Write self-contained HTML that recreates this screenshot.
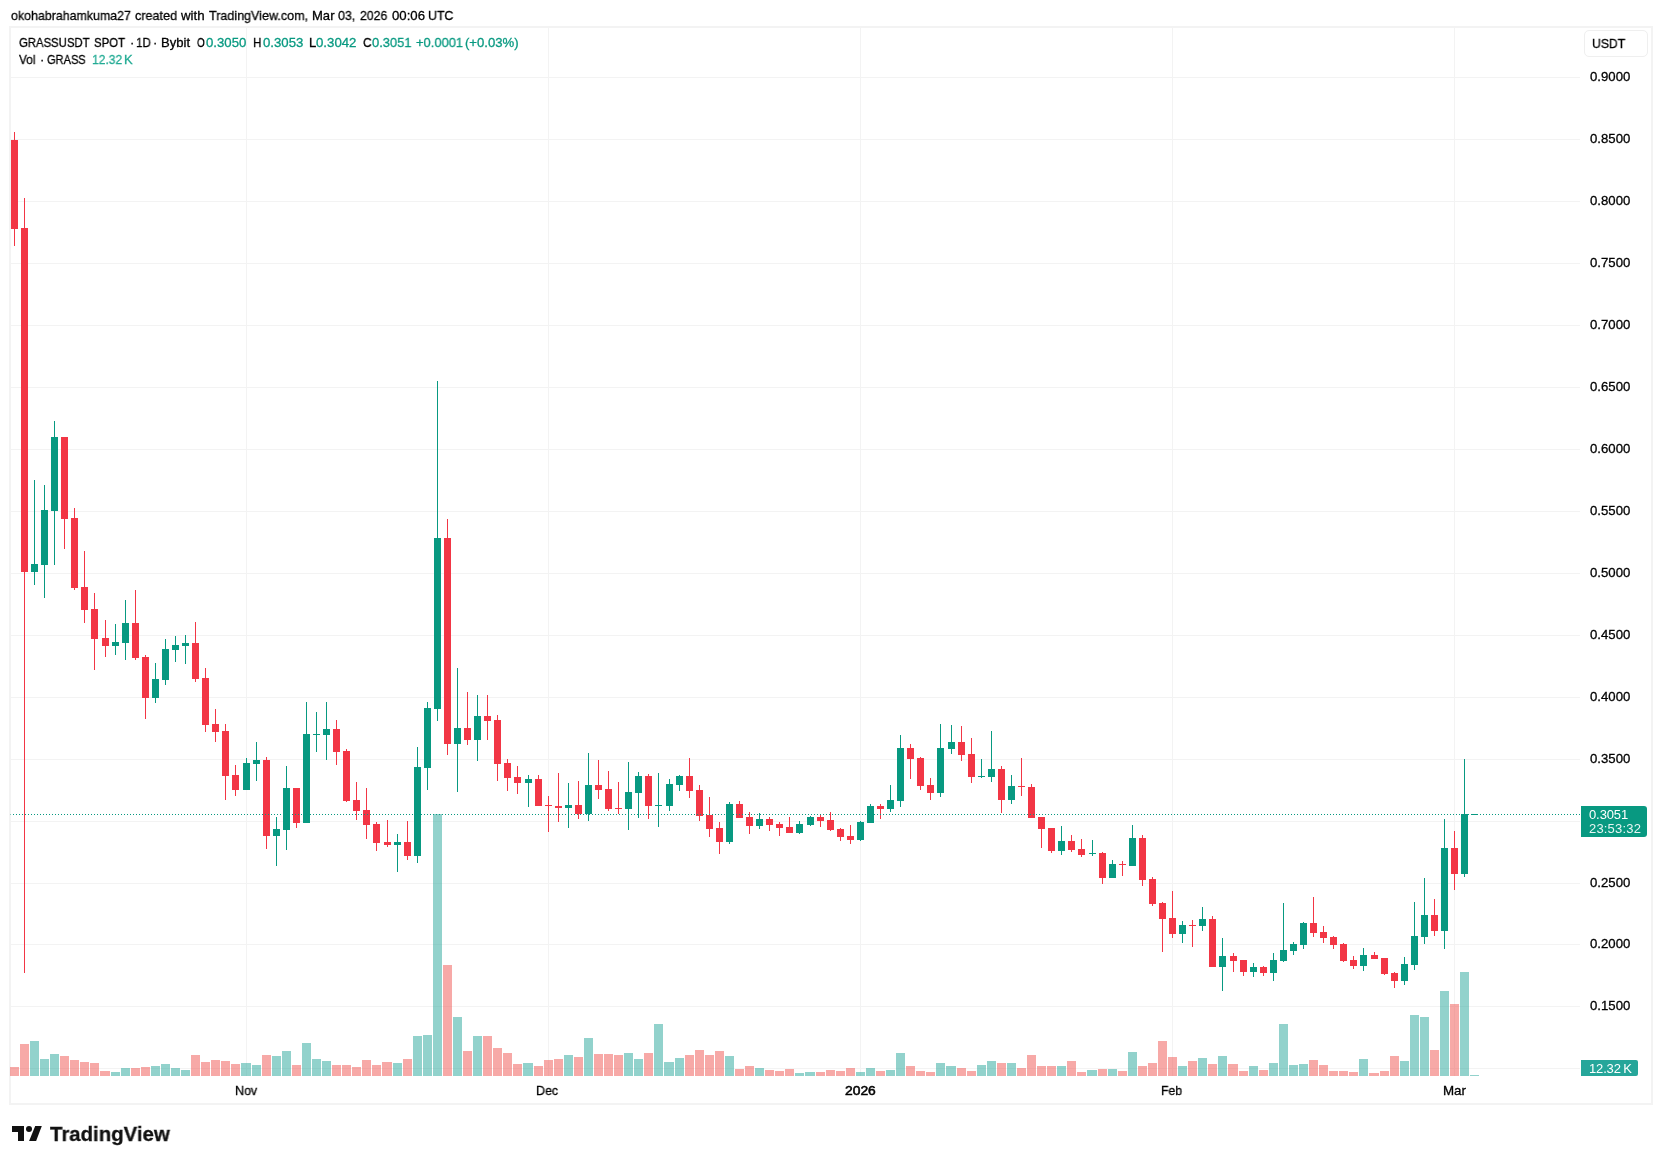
<!DOCTYPE html>
<html><head><meta charset="utf-8"><style>
*{margin:0;padding:0;box-sizing:border-box}
html,body{width:1662px;height:1164px;background:#fff;overflow:hidden}
body{position:relative;font-family:"Liberation Sans",sans-serif;color:#131722}
.ch{position:absolute;left:0;top:0}
.frame{position:absolute;left:9px;top:26px;width:1644px;height:1079px;border:2px solid #f3f3f3}
.t{position:absolute;white-space:nowrap;transform-origin:0 0;font-size:13px;line-height:16px;will-change:transform;-webkit-text-stroke:0.3px currentColor}
.usdt{position:absolute;left:1584px;top:30px;width:64px;height:27px;border:1px solid #efefef;border-radius:5px}
.bx{position:absolute;color:#fff;font-size:13px;line-height:16px;white-space:nowrap;will-change:transform}
</style></head><body>
<div class="frame"></div>
<div class="usdt"></div>
<svg class="ch" width="1662" height="1164" viewBox="0 0 1662 1164" shape-rendering="crispEdges"><rect x="11" y="77" width="1569" height="1" fill="#f3f3f3"/><rect x="11" y="139" width="1569" height="1" fill="#f3f3f3"/><rect x="11" y="201" width="1569" height="1" fill="#f3f3f3"/><rect x="11" y="263" width="1569" height="1" fill="#f3f3f3"/><rect x="11" y="325" width="1569" height="1" fill="#f3f3f3"/><rect x="11" y="387" width="1569" height="1" fill="#f3f3f3"/><rect x="11" y="449" width="1569" height="1" fill="#f3f3f3"/><rect x="11" y="511" width="1569" height="1" fill="#f3f3f3"/><rect x="11" y="573" width="1569" height="1" fill="#f3f3f3"/><rect x="11" y="635" width="1569" height="1" fill="#f3f3f3"/><rect x="11" y="697" width="1569" height="1" fill="#f3f3f3"/><rect x="11" y="759" width="1569" height="1" fill="#f3f3f3"/><rect x="11" y="821" width="1569" height="1" fill="#f3f3f3"/><rect x="11" y="883" width="1569" height="1" fill="#f3f3f3"/><rect x="11" y="944" width="1569" height="1" fill="#f3f3f3"/><rect x="11" y="1006" width="1569" height="1" fill="#f3f3f3"/><rect x="11" y="1068" width="1569" height="1" fill="#f3f3f3"/><rect x="246" y="28" width="1" height="1048" fill="#f3f3f3"/><rect x="548" y="28" width="1" height="1048" fill="#f3f3f3"/><rect x="860" y="28" width="1" height="1048" fill="#f3f3f3"/><rect x="1172" y="28" width="1" height="1048" fill="#f3f3f3"/><rect x="1454" y="28" width="1" height="1048" fill="#f3f3f3"/><rect x="10" y="1067" width="9" height="9" fill="rgba(239,83,80,0.5)"/><rect x="20" y="1044" width="9" height="32" fill="rgba(239,83,80,0.5)"/><rect x="30" y="1041" width="9" height="35" fill="rgba(38,166,154,0.5)"/><rect x="40" y="1059" width="9" height="17" fill="rgba(38,166,154,0.5)"/><rect x="50" y="1054" width="9" height="22" fill="rgba(38,166,154,0.5)"/><rect x="60" y="1056" width="9" height="20" fill="rgba(239,83,80,0.5)"/><rect x="70" y="1060" width="9" height="16" fill="rgba(239,83,80,0.5)"/><rect x="80" y="1062" width="9" height="14" fill="rgba(239,83,80,0.5)"/><rect x="90" y="1063" width="9" height="13" fill="rgba(239,83,80,0.5)"/><rect x="100" y="1071" width="10" height="5" fill="rgba(239,83,80,0.5)"/><rect x="111" y="1072" width="9" height="4" fill="rgba(38,166,154,0.5)"/><rect x="121" y="1068" width="9" height="8" fill="rgba(38,166,154,0.5)"/><rect x="131" y="1068" width="9" height="8" fill="rgba(239,83,80,0.5)"/><rect x="141" y="1067" width="9" height="9" fill="rgba(239,83,80,0.5)"/><rect x="151" y="1066" width="9" height="10" fill="rgba(38,166,154,0.5)"/><rect x="161" y="1064" width="9" height="12" fill="rgba(38,166,154,0.5)"/><rect x="171" y="1068" width="9" height="8" fill="rgba(38,166,154,0.5)"/><rect x="181" y="1070" width="9" height="6" fill="rgba(38,166,154,0.5)"/><rect x="191" y="1055" width="9" height="21" fill="rgba(239,83,80,0.5)"/><rect x="201" y="1062" width="9" height="14" fill="rgba(239,83,80,0.5)"/><rect x="211" y="1060" width="9" height="16" fill="rgba(239,83,80,0.5)"/><rect x="221" y="1061" width="9" height="15" fill="rgba(239,83,80,0.5)"/><rect x="231" y="1064" width="9" height="12" fill="rgba(239,83,80,0.5)"/><rect x="241" y="1063" width="10" height="13" fill="rgba(38,166,154,0.5)"/><rect x="252" y="1065" width="9" height="11" fill="rgba(38,166,154,0.5)"/><rect x="262" y="1055" width="9" height="21" fill="rgba(239,83,80,0.5)"/><rect x="272" y="1056" width="9" height="20" fill="rgba(38,166,154,0.5)"/><rect x="282" y="1051" width="9" height="25" fill="rgba(38,166,154,0.5)"/><rect x="292" y="1065" width="9" height="11" fill="rgba(239,83,80,0.5)"/><rect x="302" y="1043" width="9" height="33" fill="rgba(38,166,154,0.5)"/><rect x="312" y="1059" width="9" height="17" fill="rgba(38,166,154,0.5)"/><rect x="322" y="1061" width="9" height="15" fill="rgba(38,166,154,0.5)"/><rect x="332" y="1065" width="9" height="11" fill="rgba(239,83,80,0.5)"/><rect x="342" y="1065" width="9" height="11" fill="rgba(239,83,80,0.5)"/><rect x="352" y="1067" width="9" height="9" fill="rgba(239,83,80,0.5)"/><rect x="362" y="1060" width="9" height="16" fill="rgba(239,83,80,0.5)"/><rect x="372" y="1065" width="9" height="11" fill="rgba(239,83,80,0.5)"/><rect x="382" y="1062" width="10" height="14" fill="rgba(239,83,80,0.5)"/><rect x="393" y="1063" width="9" height="13" fill="rgba(38,166,154,0.5)"/><rect x="403" y="1059" width="9" height="17" fill="rgba(239,83,80,0.5)"/><rect x="413" y="1036" width="9" height="40" fill="rgba(38,166,154,0.5)"/><rect x="423" y="1035" width="9" height="41" fill="rgba(38,166,154,0.5)"/><rect x="433" y="814" width="9" height="262" fill="rgba(38,166,154,0.5)"/><rect x="443" y="965" width="9" height="111" fill="rgba(239,83,80,0.5)"/><rect x="453" y="1017" width="9" height="59" fill="rgba(38,166,154,0.5)"/><rect x="463" y="1051" width="9" height="25" fill="rgba(239,83,80,0.5)"/><rect x="473" y="1036" width="9" height="40" fill="rgba(38,166,154,0.5)"/><rect x="483" y="1036" width="9" height="40" fill="rgba(239,83,80,0.5)"/><rect x="493" y="1048" width="9" height="28" fill="rgba(239,83,80,0.5)"/><rect x="503" y="1053" width="9" height="23" fill="rgba(239,83,80,0.5)"/><rect x="513" y="1064" width="9" height="12" fill="rgba(239,83,80,0.5)"/><rect x="523" y="1063" width="10" height="13" fill="rgba(38,166,154,0.5)"/><rect x="534" y="1066" width="9" height="10" fill="rgba(239,83,80,0.5)"/><rect x="544" y="1060" width="9" height="16" fill="rgba(239,83,80,0.5)"/><rect x="554" y="1059" width="9" height="17" fill="rgba(239,83,80,0.5)"/><rect x="564" y="1055" width="9" height="21" fill="rgba(38,166,154,0.5)"/><rect x="574" y="1057" width="9" height="19" fill="rgba(239,83,80,0.5)"/><rect x="584" y="1038" width="9" height="38" fill="rgba(38,166,154,0.5)"/><rect x="594" y="1054" width="9" height="22" fill="rgba(239,83,80,0.5)"/><rect x="604" y="1054" width="9" height="22" fill="rgba(239,83,80,0.5)"/><rect x="614" y="1055" width="9" height="21" fill="rgba(239,83,80,0.5)"/><rect x="624" y="1053" width="9" height="23" fill="rgba(38,166,154,0.5)"/><rect x="634" y="1059" width="9" height="17" fill="rgba(38,166,154,0.5)"/><rect x="644" y="1053" width="9" height="23" fill="rgba(239,83,80,0.5)"/><rect x="654" y="1024" width="9" height="52" fill="rgba(38,166,154,0.5)"/><rect x="664" y="1062" width="10" height="14" fill="rgba(38,166,154,0.5)"/><rect x="675" y="1058" width="9" height="18" fill="rgba(38,166,154,0.5)"/><rect x="685" y="1055" width="9" height="21" fill="rgba(239,83,80,0.5)"/><rect x="695" y="1050" width="9" height="26" fill="rgba(239,83,80,0.5)"/><rect x="705" y="1055" width="9" height="21" fill="rgba(239,83,80,0.5)"/><rect x="715" y="1051" width="9" height="25" fill="rgba(239,83,80,0.5)"/><rect x="725" y="1056" width="9" height="20" fill="rgba(38,166,154,0.5)"/><rect x="735" y="1069" width="9" height="7" fill="rgba(239,83,80,0.5)"/><rect x="745" y="1066" width="9" height="10" fill="rgba(239,83,80,0.5)"/><rect x="755" y="1068" width="9" height="8" fill="rgba(38,166,154,0.5)"/><rect x="765" y="1070" width="9" height="6" fill="rgba(239,83,80,0.5)"/><rect x="775" y="1071" width="9" height="5" fill="rgba(239,83,80,0.5)"/><rect x="785" y="1069" width="9" height="7" fill="rgba(239,83,80,0.5)"/><rect x="795" y="1073" width="9" height="3" fill="rgba(38,166,154,0.5)"/><rect x="805" y="1072" width="10" height="4" fill="rgba(38,166,154,0.5)"/><rect x="816" y="1072" width="9" height="4" fill="rgba(239,83,80,0.5)"/><rect x="826" y="1070" width="9" height="6" fill="rgba(239,83,80,0.5)"/><rect x="836" y="1071" width="9" height="5" fill="rgba(239,83,80,0.5)"/><rect x="846" y="1068" width="9" height="8" fill="rgba(239,83,80,0.5)"/><rect x="856" y="1072" width="9" height="4" fill="rgba(38,166,154,0.5)"/><rect x="866" y="1068" width="9" height="8" fill="rgba(38,166,154,0.5)"/><rect x="876" y="1071" width="9" height="5" fill="rgba(239,83,80,0.5)"/><rect x="886" y="1070" width="9" height="6" fill="rgba(38,166,154,0.5)"/><rect x="896" y="1053" width="9" height="23" fill="rgba(38,166,154,0.5)"/><rect x="906" y="1066" width="9" height="10" fill="rgba(239,83,80,0.5)"/><rect x="916" y="1071" width="9" height="5" fill="rgba(239,83,80,0.5)"/><rect x="926" y="1072" width="9" height="4" fill="rgba(239,83,80,0.5)"/><rect x="936" y="1063" width="9" height="13" fill="rgba(38,166,154,0.5)"/><rect x="946" y="1066" width="10" height="10" fill="rgba(38,166,154,0.5)"/><rect x="957" y="1068" width="9" height="8" fill="rgba(239,83,80,0.5)"/><rect x="967" y="1071" width="9" height="5" fill="rgba(239,83,80,0.5)"/><rect x="977" y="1065" width="9" height="11" fill="rgba(38,166,154,0.5)"/><rect x="987" y="1061" width="9" height="15" fill="rgba(38,166,154,0.5)"/><rect x="997" y="1063" width="9" height="13" fill="rgba(239,83,80,0.5)"/><rect x="1007" y="1063" width="9" height="13" fill="rgba(38,166,154,0.5)"/><rect x="1017" y="1068" width="9" height="8" fill="rgba(239,83,80,0.5)"/><rect x="1027" y="1055" width="9" height="21" fill="rgba(239,83,80,0.5)"/><rect x="1037" y="1066" width="9" height="10" fill="rgba(239,83,80,0.5)"/><rect x="1047" y="1066" width="9" height="10" fill="rgba(239,83,80,0.5)"/><rect x="1057" y="1066" width="9" height="10" fill="rgba(38,166,154,0.5)"/><rect x="1067" y="1061" width="9" height="15" fill="rgba(239,83,80,0.5)"/><rect x="1077" y="1072" width="9" height="4" fill="rgba(239,83,80,0.5)"/><rect x="1087" y="1070" width="10" height="6" fill="rgba(38,166,154,0.5)"/><rect x="1098" y="1069" width="9" height="7" fill="rgba(239,83,80,0.5)"/><rect x="1108" y="1069" width="9" height="7" fill="rgba(38,166,154,0.5)"/><rect x="1118" y="1071" width="9" height="5" fill="rgba(239,83,80,0.5)"/><rect x="1128" y="1052" width="9" height="24" fill="rgba(38,166,154,0.5)"/><rect x="1138" y="1066" width="9" height="10" fill="rgba(239,83,80,0.5)"/><rect x="1148" y="1063" width="9" height="13" fill="rgba(239,83,80,0.5)"/><rect x="1158" y="1041" width="9" height="35" fill="rgba(239,83,80,0.5)"/><rect x="1168" y="1057" width="9" height="19" fill="rgba(239,83,80,0.5)"/><rect x="1178" y="1066" width="9" height="10" fill="rgba(38,166,154,0.5)"/><rect x="1188" y="1061" width="9" height="15" fill="rgba(239,83,80,0.5)"/><rect x="1198" y="1058" width="9" height="18" fill="rgba(38,166,154,0.5)"/><rect x="1208" y="1064" width="9" height="12" fill="rgba(239,83,80,0.5)"/><rect x="1218" y="1056" width="9" height="20" fill="rgba(38,166,154,0.5)"/><rect x="1228" y="1064" width="10" height="12" fill="rgba(239,83,80,0.5)"/><rect x="1239" y="1071" width="9" height="5" fill="rgba(239,83,80,0.5)"/><rect x="1249" y="1066" width="9" height="10" fill="rgba(38,166,154,0.5)"/><rect x="1259" y="1070" width="9" height="6" fill="rgba(239,83,80,0.5)"/><rect x="1269" y="1063" width="9" height="13" fill="rgba(38,166,154,0.5)"/><rect x="1279" y="1024" width="9" height="52" fill="rgba(38,166,154,0.5)"/><rect x="1289" y="1065" width="9" height="11" fill="rgba(38,166,154,0.5)"/><rect x="1299" y="1064" width="9" height="12" fill="rgba(38,166,154,0.5)"/><rect x="1309" y="1060" width="9" height="16" fill="rgba(239,83,80,0.5)"/><rect x="1319" y="1065" width="9" height="11" fill="rgba(239,83,80,0.5)"/><rect x="1329" y="1071" width="9" height="5" fill="rgba(239,83,80,0.5)"/><rect x="1339" y="1071" width="9" height="5" fill="rgba(239,83,80,0.5)"/><rect x="1349" y="1072" width="9" height="4" fill="rgba(239,83,80,0.5)"/><rect x="1359" y="1059" width="9" height="17" fill="rgba(38,166,154,0.5)"/><rect x="1369" y="1073" width="10" height="3" fill="rgba(239,83,80,0.5)"/><rect x="1380" y="1071" width="9" height="5" fill="rgba(239,83,80,0.5)"/><rect x="1390" y="1056" width="9" height="20" fill="rgba(239,83,80,0.5)"/><rect x="1400" y="1061" width="9" height="15" fill="rgba(38,166,154,0.5)"/><rect x="1410" y="1015" width="9" height="61" fill="rgba(38,166,154,0.5)"/><rect x="1420" y="1017" width="9" height="59" fill="rgba(38,166,154,0.5)"/><rect x="1430" y="1050" width="9" height="26" fill="rgba(239,83,80,0.5)"/><rect x="1440" y="991" width="9" height="85" fill="rgba(38,166,154,0.5)"/><rect x="1450" y="1004" width="9" height="72" fill="rgba(239,83,80,0.5)"/><rect x="1460" y="972" width="9" height="104" fill="rgba(38,166,154,0.5)"/><rect x="1470" y="1075" width="9" height="1" fill="rgba(38,166,154,0.5)"/><rect x="14" y="132" width="1" height="114" fill="#F23645"/><rect x="11" y="140" width="7" height="89" fill="#F23645"/><rect x="24" y="198" width="1" height="775" fill="#F23645"/><rect x="21" y="228" width="7" height="344" fill="#F23645"/><rect x="34" y="480" width="1" height="105" fill="#089981"/><rect x="31" y="564" width="7" height="8" fill="#089981"/><rect x="44" y="485" width="1" height="113" fill="#089981"/><rect x="41" y="510" width="7" height="55" fill="#089981"/><rect x="54" y="421" width="1" height="144" fill="#089981"/><rect x="51" y="437" width="7" height="74" fill="#089981"/><rect x="64" y="437" width="1" height="112" fill="#F23645"/><rect x="61" y="437" width="7" height="82" fill="#F23645"/><rect x="74" y="508" width="1" height="82" fill="#F23645"/><rect x="71" y="518" width="7" height="70" fill="#F23645"/><rect x="84" y="551" width="1" height="72" fill="#F23645"/><rect x="81" y="587" width="7" height="23" fill="#F23645"/><rect x="94" y="593" width="1" height="77" fill="#F23645"/><rect x="91" y="609" width="7" height="30" fill="#F23645"/><rect x="105" y="620" width="1" height="37" fill="#F23645"/><rect x="102" y="638" width="7" height="8" fill="#F23645"/><rect x="115" y="624" width="1" height="31" fill="#089981"/><rect x="112" y="642" width="7" height="4" fill="#089981"/><rect x="125" y="600" width="1" height="60" fill="#089981"/><rect x="122" y="623" width="7" height="20" fill="#089981"/><rect x="135" y="590" width="1" height="70" fill="#F23645"/><rect x="132" y="623" width="7" height="35" fill="#F23645"/><rect x="145" y="655" width="1" height="64" fill="#F23645"/><rect x="142" y="657" width="7" height="41" fill="#F23645"/><rect x="155" y="663" width="1" height="40" fill="#089981"/><rect x="152" y="679" width="7" height="19" fill="#089981"/><rect x="165" y="639" width="1" height="46" fill="#089981"/><rect x="162" y="649" width="7" height="31" fill="#089981"/><rect x="175" y="636" width="1" height="26" fill="#089981"/><rect x="172" y="645" width="7" height="5" fill="#089981"/><rect x="185" y="635" width="1" height="29" fill="#089981"/><rect x="182" y="643" width="7" height="3" fill="#089981"/><rect x="195" y="622" width="1" height="60" fill="#F23645"/><rect x="192" y="643" width="7" height="36" fill="#F23645"/><rect x="205" y="668" width="1" height="64" fill="#F23645"/><rect x="202" y="678" width="7" height="47" fill="#F23645"/><rect x="215" y="709" width="1" height="33" fill="#F23645"/><rect x="212" y="724" width="7" height="8" fill="#F23645"/><rect x="225" y="724" width="1" height="76" fill="#F23645"/><rect x="222" y="731" width="7" height="45" fill="#F23645"/><rect x="235" y="765" width="1" height="31" fill="#F23645"/><rect x="232" y="775" width="7" height="15" fill="#F23645"/><rect x="246" y="758" width="1" height="32" fill="#089981"/><rect x="243" y="763" width="7" height="27" fill="#089981"/><rect x="256" y="742" width="1" height="39" fill="#089981"/><rect x="253" y="760" width="7" height="4" fill="#089981"/><rect x="266" y="757" width="1" height="92" fill="#F23645"/><rect x="263" y="760" width="7" height="76" fill="#F23645"/><rect x="276" y="817" width="1" height="49" fill="#089981"/><rect x="273" y="829" width="7" height="7" fill="#089981"/><rect x="286" y="766" width="1" height="84" fill="#089981"/><rect x="283" y="788" width="7" height="42" fill="#089981"/><rect x="296" y="788" width="1" height="40" fill="#F23645"/><rect x="293" y="788" width="7" height="35" fill="#F23645"/><rect x="306" y="702" width="1" height="121" fill="#089981"/><rect x="303" y="734" width="7" height="89" fill="#089981"/><rect x="316" y="712" width="1" height="40" fill="#089981"/><rect x="313" y="734" width="7" height="1" fill="#089981"/><rect x="326" y="702" width="1" height="58" fill="#089981"/><rect x="323" y="729" width="7" height="6" fill="#089981"/><rect x="336" y="720" width="1" height="45" fill="#F23645"/><rect x="333" y="729" width="7" height="23" fill="#F23645"/><rect x="346" y="749" width="1" height="53" fill="#F23645"/><rect x="343" y="751" width="7" height="50" fill="#F23645"/><rect x="356" y="782" width="1" height="38" fill="#F23645"/><rect x="353" y="800" width="7" height="11" fill="#F23645"/><rect x="366" y="788" width="1" height="51" fill="#F23645"/><rect x="363" y="810" width="7" height="15" fill="#F23645"/><rect x="376" y="822" width="1" height="29" fill="#F23645"/><rect x="373" y="824" width="7" height="19" fill="#F23645"/><rect x="387" y="820" width="1" height="27" fill="#F23645"/><rect x="384" y="842" width="7" height="3" fill="#F23645"/><rect x="397" y="834" width="1" height="38" fill="#089981"/><rect x="394" y="842" width="7" height="3" fill="#089981"/><rect x="407" y="821" width="1" height="39" fill="#F23645"/><rect x="404" y="842" width="7" height="14" fill="#F23645"/><rect x="417" y="747" width="1" height="116" fill="#089981"/><rect x="414" y="767" width="7" height="89" fill="#089981"/><rect x="427" y="702" width="1" height="88" fill="#089981"/><rect x="424" y="708" width="7" height="60" fill="#089981"/><rect x="437" y="381" width="1" height="340" fill="#089981"/><rect x="434" y="538" width="7" height="171" fill="#089981"/><rect x="447" y="519" width="1" height="236" fill="#F23645"/><rect x="444" y="538" width="7" height="206" fill="#F23645"/><rect x="457" y="668" width="1" height="124" fill="#089981"/><rect x="454" y="728" width="7" height="16" fill="#089981"/><rect x="467" y="692" width="1" height="53" fill="#F23645"/><rect x="464" y="728" width="7" height="12" fill="#F23645"/><rect x="477" y="695" width="1" height="66" fill="#089981"/><rect x="474" y="716" width="7" height="24" fill="#089981"/><rect x="487" y="695" width="1" height="45" fill="#F23645"/><rect x="484" y="716" width="7" height="5" fill="#F23645"/><rect x="497" y="715" width="1" height="66" fill="#F23645"/><rect x="494" y="720" width="7" height="44" fill="#F23645"/><rect x="507" y="759" width="1" height="32" fill="#F23645"/><rect x="504" y="763" width="7" height="15" fill="#F23645"/><rect x="517" y="766" width="1" height="28" fill="#F23645"/><rect x="514" y="777" width="7" height="6" fill="#F23645"/><rect x="528" y="775" width="1" height="32" fill="#089981"/><rect x="525" y="779" width="7" height="4" fill="#089981"/><rect x="538" y="775" width="1" height="31" fill="#F23645"/><rect x="535" y="779" width="7" height="27" fill="#F23645"/><rect x="548" y="796" width="1" height="36" fill="#F23645"/><rect x="545" y="805" width="7" height="1" fill="#F23645"/><rect x="558" y="773" width="1" height="49" fill="#F23645"/><rect x="555" y="806" width="7" height="2" fill="#F23645"/><rect x="568" y="783" width="1" height="45" fill="#089981"/><rect x="565" y="805" width="7" height="3" fill="#089981"/><rect x="578" y="781" width="1" height="38" fill="#F23645"/><rect x="575" y="805" width="7" height="9" fill="#F23645"/><rect x="588" y="753" width="1" height="68" fill="#089981"/><rect x="585" y="785" width="7" height="29" fill="#089981"/><rect x="598" y="760" width="1" height="39" fill="#F23645"/><rect x="595" y="785" width="7" height="5" fill="#F23645"/><rect x="608" y="771" width="1" height="40" fill="#F23645"/><rect x="605" y="789" width="7" height="20" fill="#F23645"/><rect x="618" y="782" width="1" height="32" fill="#F23645"/><rect x="615" y="808" width="7" height="1" fill="#F23645"/><rect x="628" y="762" width="1" height="68" fill="#089981"/><rect x="625" y="792" width="7" height="17" fill="#089981"/><rect x="638" y="772" width="1" height="46" fill="#089981"/><rect x="635" y="776" width="7" height="17" fill="#089981"/><rect x="648" y="774" width="1" height="45" fill="#F23645"/><rect x="645" y="776" width="7" height="30" fill="#F23645"/><rect x="658" y="773" width="1" height="54" fill="#089981"/><rect x="655" y="805" width="7" height="1" fill="#089981"/><rect x="669" y="779" width="1" height="32" fill="#089981"/><rect x="666" y="784" width="7" height="22" fill="#089981"/><rect x="679" y="775" width="1" height="16" fill="#089981"/><rect x="676" y="776" width="7" height="9" fill="#089981"/><rect x="689" y="758" width="1" height="40" fill="#F23645"/><rect x="686" y="776" width="7" height="15" fill="#F23645"/><rect x="699" y="785" width="1" height="36" fill="#F23645"/><rect x="696" y="790" width="7" height="26" fill="#F23645"/><rect x="709" y="797" width="1" height="40" fill="#F23645"/><rect x="706" y="815" width="7" height="14" fill="#F23645"/><rect x="719" y="822" width="1" height="32" fill="#F23645"/><rect x="716" y="828" width="7" height="14" fill="#F23645"/><rect x="729" y="802" width="1" height="42" fill="#089981"/><rect x="726" y="804" width="7" height="38" fill="#089981"/><rect x="739" y="801" width="1" height="17" fill="#F23645"/><rect x="736" y="804" width="7" height="14" fill="#F23645"/><rect x="749" y="812" width="1" height="22" fill="#F23645"/><rect x="746" y="817" width="7" height="9" fill="#F23645"/><rect x="759" y="813" width="1" height="16" fill="#089981"/><rect x="756" y="819" width="7" height="7" fill="#089981"/><rect x="769" y="817" width="1" height="14" fill="#F23645"/><rect x="766" y="819" width="7" height="6" fill="#F23645"/><rect x="779" y="822" width="1" height="14" fill="#F23645"/><rect x="776" y="824" width="7" height="4" fill="#F23645"/><rect x="789" y="817" width="1" height="16" fill="#F23645"/><rect x="786" y="827" width="7" height="6" fill="#F23645"/><rect x="799" y="821" width="1" height="13" fill="#089981"/><rect x="796" y="824" width="7" height="9" fill="#089981"/><rect x="810" y="816" width="1" height="10" fill="#089981"/><rect x="807" y="817" width="7" height="8" fill="#089981"/><rect x="820" y="814" width="1" height="13" fill="#F23645"/><rect x="817" y="817" width="7" height="4" fill="#F23645"/><rect x="830" y="812" width="1" height="19" fill="#F23645"/><rect x="827" y="820" width="7" height="10" fill="#F23645"/><rect x="840" y="828" width="1" height="13" fill="#F23645"/><rect x="837" y="829" width="7" height="8" fill="#F23645"/><rect x="850" y="825" width="1" height="19" fill="#F23645"/><rect x="847" y="836" width="7" height="4" fill="#F23645"/><rect x="860" y="821" width="1" height="20" fill="#089981"/><rect x="857" y="822" width="7" height="18" fill="#089981"/><rect x="870" y="804" width="1" height="19" fill="#089981"/><rect x="867" y="806" width="7" height="17" fill="#089981"/><rect x="880" y="804" width="1" height="15" fill="#F23645"/><rect x="877" y="806" width="7" height="3" fill="#F23645"/><rect x="890" y="785" width="1" height="27" fill="#089981"/><rect x="887" y="800" width="7" height="9" fill="#089981"/><rect x="900" y="735" width="1" height="72" fill="#089981"/><rect x="897" y="748" width="7" height="53" fill="#089981"/><rect x="910" y="744" width="1" height="35" fill="#F23645"/><rect x="907" y="748" width="7" height="11" fill="#F23645"/><rect x="920" y="757" width="1" height="33" fill="#F23645"/><rect x="917" y="758" width="7" height="28" fill="#F23645"/><rect x="930" y="778" width="1" height="22" fill="#F23645"/><rect x="927" y="785" width="7" height="8" fill="#F23645"/><rect x="940" y="724" width="1" height="73" fill="#089981"/><rect x="937" y="748" width="7" height="45" fill="#089981"/><rect x="951" y="725" width="1" height="29" fill="#089981"/><rect x="948" y="742" width="7" height="7" fill="#089981"/><rect x="961" y="726" width="1" height="35" fill="#F23645"/><rect x="958" y="742" width="7" height="13" fill="#F23645"/><rect x="971" y="738" width="1" height="45" fill="#F23645"/><rect x="968" y="754" width="7" height="23" fill="#F23645"/><rect x="981" y="759" width="1" height="19" fill="#089981"/><rect x="978" y="776" width="7" height="1" fill="#089981"/><rect x="991" y="731" width="1" height="51" fill="#089981"/><rect x="988" y="769" width="7" height="8" fill="#089981"/><rect x="1001" y="766" width="1" height="47" fill="#F23645"/><rect x="998" y="769" width="7" height="31" fill="#F23645"/><rect x="1011" y="775" width="1" height="29" fill="#089981"/><rect x="1008" y="786" width="7" height="14" fill="#089981"/><rect x="1021" y="758" width="1" height="38" fill="#F23645"/><rect x="1018" y="786" width="7" height="1" fill="#F23645"/><rect x="1031" y="784" width="1" height="34" fill="#F23645"/><rect x="1028" y="787" width="7" height="31" fill="#F23645"/><rect x="1041" y="817" width="1" height="31" fill="#F23645"/><rect x="1038" y="817" width="7" height="12" fill="#F23645"/><rect x="1051" y="828" width="1" height="25" fill="#F23645"/><rect x="1048" y="828" width="7" height="23" fill="#F23645"/><rect x="1061" y="826" width="1" height="29" fill="#089981"/><rect x="1058" y="841" width="7" height="10" fill="#089981"/><rect x="1071" y="835" width="1" height="17" fill="#F23645"/><rect x="1068" y="841" width="7" height="9" fill="#F23645"/><rect x="1081" y="839" width="1" height="18" fill="#F23645"/><rect x="1078" y="849" width="7" height="6" fill="#F23645"/><rect x="1092" y="840" width="1" height="16" fill="#089981"/><rect x="1089" y="853" width="7" height="1" fill="#089981"/><rect x="1102" y="852" width="1" height="32" fill="#F23645"/><rect x="1099" y="853" width="7" height="25" fill="#F23645"/><rect x="1112" y="860" width="1" height="18" fill="#089981"/><rect x="1109" y="864" width="7" height="14" fill="#089981"/><rect x="1122" y="861" width="1" height="15" fill="#F23645"/><rect x="1119" y="864" width="7" height="1" fill="#F23645"/><rect x="1132" y="825" width="1" height="41" fill="#089981"/><rect x="1129" y="838" width="7" height="28" fill="#089981"/><rect x="1142" y="835" width="1" height="51" fill="#F23645"/><rect x="1139" y="838" width="7" height="42" fill="#F23645"/><rect x="1152" y="877" width="1" height="29" fill="#F23645"/><rect x="1149" y="879" width="7" height="25" fill="#F23645"/><rect x="1162" y="902" width="1" height="50" fill="#F23645"/><rect x="1159" y="903" width="7" height="16" fill="#F23645"/><rect x="1172" y="891" width="1" height="47" fill="#F23645"/><rect x="1169" y="918" width="7" height="16" fill="#F23645"/><rect x="1182" y="921" width="1" height="22" fill="#089981"/><rect x="1179" y="925" width="7" height="9" fill="#089981"/><rect x="1192" y="920" width="1" height="27" fill="#F23645"/><rect x="1189" y="925" width="7" height="1" fill="#F23645"/><rect x="1202" y="907" width="1" height="24" fill="#089981"/><rect x="1199" y="919" width="7" height="7" fill="#089981"/><rect x="1212" y="916" width="1" height="51" fill="#F23645"/><rect x="1209" y="919" width="7" height="48" fill="#F23645"/><rect x="1222" y="938" width="1" height="53" fill="#089981"/><rect x="1219" y="956" width="7" height="11" fill="#089981"/><rect x="1233" y="953" width="1" height="19" fill="#F23645"/><rect x="1230" y="956" width="7" height="5" fill="#F23645"/><rect x="1243" y="960" width="1" height="16" fill="#F23645"/><rect x="1240" y="960" width="7" height="12" fill="#F23645"/><rect x="1253" y="963" width="1" height="14" fill="#089981"/><rect x="1250" y="967" width="7" height="5" fill="#089981"/><rect x="1263" y="966" width="1" height="10" fill="#F23645"/><rect x="1260" y="967" width="7" height="6" fill="#F23645"/><rect x="1273" y="953" width="1" height="28" fill="#089981"/><rect x="1270" y="960" width="7" height="13" fill="#089981"/><rect x="1283" y="903" width="1" height="59" fill="#089981"/><rect x="1280" y="950" width="7" height="11" fill="#089981"/><rect x="1293" y="942" width="1" height="13" fill="#089981"/><rect x="1290" y="944" width="7" height="7" fill="#089981"/><rect x="1303" y="922" width="1" height="27" fill="#089981"/><rect x="1300" y="923" width="7" height="22" fill="#089981"/><rect x="1313" y="897" width="1" height="40" fill="#F23645"/><rect x="1310" y="923" width="7" height="10" fill="#F23645"/><rect x="1323" y="926" width="1" height="17" fill="#F23645"/><rect x="1320" y="932" width="7" height="6" fill="#F23645"/><rect x="1333" y="936" width="1" height="13" fill="#F23645"/><rect x="1330" y="937" width="7" height="8" fill="#F23645"/><rect x="1343" y="943" width="1" height="19" fill="#F23645"/><rect x="1340" y="944" width="7" height="17" fill="#F23645"/><rect x="1353" y="956" width="1" height="13" fill="#F23645"/><rect x="1350" y="960" width="7" height="6" fill="#F23645"/><rect x="1363" y="948" width="1" height="23" fill="#089981"/><rect x="1360" y="955" width="7" height="11" fill="#089981"/><rect x="1374" y="952" width="1" height="7" fill="#F23645"/><rect x="1371" y="955" width="7" height="4" fill="#F23645"/><rect x="1384" y="958" width="1" height="17" fill="#F23645"/><rect x="1381" y="958" width="7" height="16" fill="#F23645"/><rect x="1394" y="972" width="1" height="16" fill="#F23645"/><rect x="1391" y="973" width="7" height="8" fill="#F23645"/><rect x="1404" y="957" width="1" height="28" fill="#089981"/><rect x="1401" y="964" width="7" height="17" fill="#089981"/><rect x="1414" y="902" width="1" height="68" fill="#089981"/><rect x="1411" y="936" width="7" height="29" fill="#089981"/><rect x="1424" y="878" width="1" height="66" fill="#089981"/><rect x="1421" y="915" width="7" height="22" fill="#089981"/><rect x="1434" y="899" width="1" height="37" fill="#F23645"/><rect x="1431" y="915" width="7" height="16" fill="#F23645"/><rect x="1444" y="819" width="1" height="130" fill="#089981"/><rect x="1441" y="848" width="7" height="83" fill="#089981"/><rect x="1454" y="831" width="1" height="59" fill="#F23645"/><rect x="1451" y="848" width="7" height="26" fill="#F23645"/><rect x="1464" y="759" width="1" height="118" fill="#089981"/><rect x="1461" y="814" width="7" height="60" fill="#089981"/><rect x="1471" y="814" width="7" height="1" fill="#089981"/><rect x="10" y="814" width="1" height="1" fill="#089981" fill-opacity="0.45"/><line x1="13" y1="814.5" x2="1580" y2="814.5" stroke="#089981" stroke-width="1" stroke-dasharray="1 2"/><g fill="#111111" shape-rendering="geometricPrecision"><path d="M12 1126H24V1141H18V1132H12Z"/><circle cx="29" cy="1129" r="3"/><path d="M35.2 1126H41.8L36.1 1141H29.1Z"/></g></svg>
<div class="t" id="hdr_0" style="left:10.65px;top:8.00px;letter-spacing:0.000px;transform:scaleX(0.9535);color:#000000;">okohabrahamkuma27</div><div class="t" id="hdr_1" style="left:135.30px;top:8.00px;letter-spacing:0.000px;transform:scaleX(0.9691);color:#000000;">created</div><div class="t" id="hdr_2" style="left:181.30px;top:8.00px;letter-spacing:0.000px;transform:scaleX(1.0222);color:#000000;">with</div><div class="t" id="hdr_3" style="left:208.50px;top:8.00px;letter-spacing:0.000px;transform:scaleX(0.9649);color:#000000;">TradingView.com,</div><div class="t" id="hdr_4" style="left:311.60px;top:8.00px;letter-spacing:0.000px;transform:scaleX(1.0039);color:#000000;">Mar</div><div class="t" id="hdr_5" style="left:338.05px;top:8.00px;letter-spacing:0.000px;transform:scaleX(0.9564);color:#000000;">03,</div><div class="t" id="hdr_6" style="left:360.30px;top:8.00px;letter-spacing:0.000px;transform:scaleX(0.9413);color:#000000;">2026</div><div class="t" id="hdr_7" style="left:392.30px;top:8.00px;letter-spacing:0.000px;transform:scaleX(1.0149);color:#000000;">00:06</div><div class="t" id="hdr_8" style="left:428.20px;top:8.00px;letter-spacing:0.000px;transform:scaleX(0.9505);color:#000000;">UTC</div><div class="t" id="l1_0" style="left:18.70px;top:35.00px;letter-spacing:0.000px;transform:scaleX(0.8720);color:#000000;">GRASSUSDT</div><div class="t" id="l1_1" style="left:93.60px;top:35.00px;letter-spacing:0.000px;transform:scaleX(0.8758);color:#000000;">SPOT</div><div class="t" id="l1_2" style="left:129.75px;top:35.00px;letter-spacing:0.000px;transform:scaleX(1.0000);color:#000000;">·</div><div class="t" id="l1_3" style="left:135.80px;top:35.00px;letter-spacing:0.000px;transform:scaleX(0.8942);color:#000000;">1D</div><div class="t" id="l1_4" style="left:153.25px;top:35.00px;letter-spacing:0.000px;transform:scaleX(1.0000);color:#000000;">·</div><div class="t" id="l1_5" style="left:160.80px;top:35.00px;letter-spacing:0.000px;transform:scaleX(1.0036);color:#000000;">Bybit</div><div class="t" id="l1_6" style="left:196.60px;top:35.00px;letter-spacing:0.000px;transform:scaleX(0.7624);color:#000000;">O</div><div class="t" id="l1_7" style="left:205.75px;top:35.00px;letter-spacing:0.000px;transform:scaleX(1.0139);color:#089981;">0.3050</div><div class="t" id="l1_8" style="left:252.90px;top:35.00px;letter-spacing:0.000px;transform:scaleX(0.8892);color:#000000;">H</div><div class="t" id="l1_9" style="left:262.65px;top:35.00px;letter-spacing:0.000px;transform:scaleX(1.0147);color:#089981;">0.3053</div><div class="t" id="l1_10" style="left:308.80px;top:35.00px;letter-spacing:0.000px;transform:scaleX(1.0000);color:#000000;">L</div><div class="t" id="l1_11" style="left:316.10px;top:35.00px;letter-spacing:0.000px;transform:scaleX(1.0172);color:#089981;">0.3042</div><div class="t" id="l1_12" style="left:362.90px;top:35.00px;letter-spacing:0.000px;transform:scaleX(0.9164);color:#000000;">C</div><div class="t" id="l1_13" style="left:371.75px;top:35.00px;letter-spacing:0.000px;transform:scaleX(0.9935);color:#089981;">0.3051</div><div class="t" id="l1_14" style="left:415.80px;top:35.00px;letter-spacing:0.000px;transform:scaleX(0.9924);color:#089981;">+0.0001</div><div class="t" id="l1_15" style="left:465.25px;top:35.00px;letter-spacing:0.000px;transform:scaleX(1.0105);color:#089981;">(+0.03%)</div><div class="t" id="l2_0" style="left:18.70px;top:52.00px;letter-spacing:0.000px;transform:scaleX(0.9055);color:#000000;">Vol</div><div class="t" id="l2_1" style="left:39.55px;top:52.00px;letter-spacing:0.000px;transform:scaleX(1.0000);color:#000000;">·</div><div class="t" id="l2_2" style="left:47.05px;top:52.00px;letter-spacing:0.000px;transform:scaleX(0.8507);color:#000000;">GRASS</div><div class="t" id="l2_3" style="left:92.00px;top:52.00px;letter-spacing:0.000px;transform:scaleX(0.9297);color:#22ab94;">12.32</div><div class="t" id="l2_4" style="left:124.05px;top:52.00px;letter-spacing:0.000px;transform:scaleX(1.0000);color:#22ab94;">K</div><div class="t" id="usdt_0" style="left:1592.25px;top:36.00px;letter-spacing:0.000px;transform:scaleX(0.9357);color:#000000;">USDT</div><div class="t" id="nov_0" style="left:234.55px;top:1083.00px;letter-spacing:0.000px;transform:scaleX(0.9628);color:#000000;">Nov</div><div class="t" id="dec_0" style="left:536.10px;top:1083.00px;letter-spacing:0.000px;transform:scaleX(0.9590);color:#000000;">Dec</div><div class="t" id="y26_0" style="left:844.85px;top:1083.00px;letter-spacing:0.000px;transform:scaleX(1.0661);color:#000000;-webkit-text-stroke:0.55px currentColor;">2026</div><div class="t" id="feb_0" style="left:1161.00px;top:1083.00px;letter-spacing:0.000px;transform:scaleX(0.9357);color:#000000;">Feb</div><div class="t" id="mar_0" style="left:1442.75px;top:1083.00px;letter-spacing:0.000px;transform:scaleX(1.0264);color:#000000;">Mar</div><div class="t" id="tv_0" style="left:49.65px;top:1126.00px;letter-spacing:0.000px;transform:scaleX(0.9712);color:#111111;font-weight:bold;font-size:21px;">TradingView</div><div class="t" id="p90_0" style="left:1589.50px;top:69.00px;letter-spacing:0.000px;transform:scaleX(1.0132);color:#000000;">0.9000</div><div class="t" id="p85_0" style="left:1589.50px;top:131.00px;letter-spacing:0.000px;transform:scaleX(1.0132);color:#000000;">0.8500</div><div class="t" id="p80_0" style="left:1589.50px;top:193.00px;letter-spacing:0.000px;transform:scaleX(1.0132);color:#000000;">0.8000</div><div class="t" id="p75_0" style="left:1589.50px;top:255.00px;letter-spacing:0.000px;transform:scaleX(1.0132);color:#000000;">0.7500</div><div class="t" id="p70_0" style="left:1589.50px;top:317.00px;letter-spacing:0.000px;transform:scaleX(1.0132);color:#000000;">0.7000</div><div class="t" id="p65_0" style="left:1589.50px;top:379.00px;letter-spacing:0.000px;transform:scaleX(1.0132);color:#000000;">0.6500</div><div class="t" id="p60_0" style="left:1589.50px;top:441.00px;letter-spacing:0.000px;transform:scaleX(1.0132);color:#000000;">0.6000</div><div class="t" id="p55_0" style="left:1589.50px;top:503.00px;letter-spacing:0.000px;transform:scaleX(1.0132);color:#000000;">0.5500</div><div class="t" id="p50_0" style="left:1589.50px;top:565.00px;letter-spacing:0.000px;transform:scaleX(1.0132);color:#000000;">0.5000</div><div class="t" id="p45_0" style="left:1589.50px;top:627.00px;letter-spacing:0.000px;transform:scaleX(1.0132);color:#000000;">0.4500</div><div class="t" id="p40_0" style="left:1589.50px;top:689.00px;letter-spacing:0.000px;transform:scaleX(1.0132);color:#000000;">0.4000</div><div class="t" id="p35_0" style="left:1589.50px;top:751.00px;letter-spacing:0.000px;transform:scaleX(1.0132);color:#000000;">0.3500</div><div class="t" id="p25_0" style="left:1589.50px;top:875.00px;letter-spacing:0.000px;transform:scaleX(1.0132);color:#000000;">0.2500</div><div class="t" id="p20_0" style="left:1589.50px;top:936.00px;letter-spacing:0.000px;transform:scaleX(1.0132);color:#000000;">0.2000</div><div class="t" id="p15_0" style="left:1589.50px;top:998.00px;letter-spacing:0.000px;transform:scaleX(1.0132);color:#000000;">0.1500</div>
<div style="position:absolute;left:1581px;top:806px;width:66px;height:31px;background:#089981;border-radius:0 3px 3px 0"></div>
<div class="bx" id="b1" style="left:1589.4000000000005px;top:807.2000000000003px;letter-spacing:-0.1079999999999018px">0.3051</div>
<div class="bx" id="b2" style="left:1589.0px;top:821.4000000000005px;letter-spacing:0.1800000000000701px;color:rgba(255,255,255,.9)">23:53:32</div>
<div style="position:absolute;left:1581px;top:1060px;width:57px;height:16px;background:#26a69a;border-radius:0 2px 2px 0"></div>
<div class="bx" id="b3" style="left:1589.0px;top:1060.800000000001px;letter-spacing:-0.15000000000000008px">12.32 K</div>
</body></html>
